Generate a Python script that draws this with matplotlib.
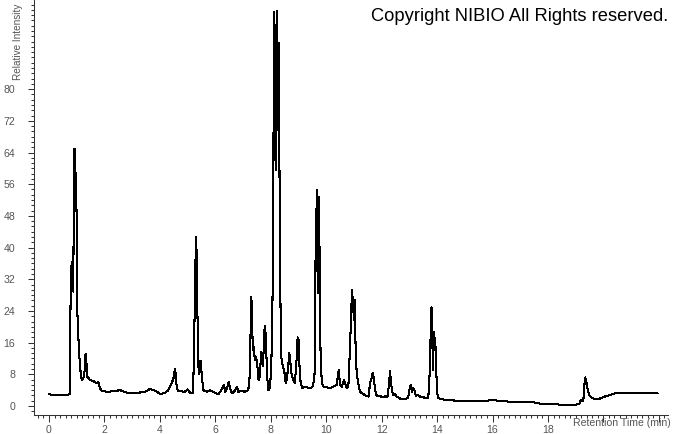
import matplotlib
matplotlib.use("Agg")
import matplotlib.pyplot as plt
from matplotlib.ticker import MultipleLocator

# Retention time (min) and relative intensity
retention_time = [
    0.00, 0.10, 0.30, 0.50, 0.70, 0.75, 0.76, 0.79, 0.83, 0.854, 0.878, 0.902, 0.938, 0.95,
    0.974, 0.998, 1.022, 1.07, 1.118, 1.179, 1.238, 1.274, 1.31, 1.335, 1.359, 1.383, 1.479,
    1.60, 1.72, 1.78, 1.84, 1.90, 2.08, 2.30, 2.56, 2.80, 3.04, 3.28, 3.52, 3.64, 3.82, 4.00,
    4.18, 4.30, 4.43, 4.49, 4.545, 4.58, 4.61, 4.66, 4.90, 5.00, 5.09, 5.20, 5.255, 5.30,
    5.33, 5.35, 5.40, 5.42, 5.47, 5.52, 5.57, 5.69, 5.81, 5.93, 6.11, 6.20, 6.31, 6.36, 6.42,
    6.49, 6.53, 6.59, 6.66, 6.79, 6.83, 6.95, 7.07, 7.19, 7.25, 7.29, 7.32, 7.35, 7.40, 7.42,
    7.47, 7.52, 7.56, 7.61, 7.65, 7.68, 7.72, 7.77, 7.80, 7.83, 7.88, 7.92, 7.97, 8.02, 8.06,
    8.09, 8.105, 8.117, 8.14, 8.165, 8.19, 8.21, 8.236, 8.26, 8.285, 8.31, 8.33, 8.37, 8.405,
    8.45, 8.50, 8.54, 8.57, 8.62, 8.67, 8.71, 8.75, 8.81, 8.87, 8.93, 8.97, 9.01, 9.03, 9.08,
    9.15, 9.24, 9.32, 9.42, 9.51, 9.56, 9.60, 9.62, 9.64, 9.66, 9.68, 9.69, 9.72, 9.74, 9.765,
    9.80, 9.85, 9.90, 10.02, 10.14, 10.26, 10.38, 10.45, 10.50, 10.57, 10.64, 10.74, 10.80,
    10.86, 10.93, 10.97, 11.00, 11.03, 11.06, 11.10, 11.16, 11.22, 11.34, 11.46, 11.53, 11.58,
    11.64, 11.68, 11.71, 11.75, 11.80, 11.88, 11.94, 12.00, 12.12, 12.21, 12.27, 12.30, 12.34,
    12.37, 12.42, 12.48, 12.54, 12.66, 12.84, 12.96, 13.02, 13.06, 13.10, 13.14, 13.18, 13.23,
    13.29, 13.38, 13.50, 13.68, 13.72, 13.76, 13.78, 13.80, 13.83, 13.85, 13.88, 13.90, 13.92,
    13.95, 13.97, 14.00, 14.03, 14.10, 14.35, 14.71, 15.07, 15.43, 15.79, 16.03, 16.27, 16.63,
    16.99, 17.35, 17.71, 18.07, 18.31, 18.43, 18.92, 19.13, 19.18, 19.24, 19.28, 19.31, 19.34,
    19.37, 19.41, 19.45, 19.51, 19.63, 19.76, 19.88, 20.06, 20.24, 20.42, 20.60, 20.96, 21.32,
    21.68, 21.95,
]
relative_intensity = [
    3.0, 2.8, 2.9, 2.8, 2.9, 3.0, 13.4, 33.9, 36.4, 30.0, 28.9, 65.0, 65.0, 58.8,
    58.8, 47.0, 24.0, 15.9, 9.9, 6.6, 7.0, 7.6, 12.9, 13.2, 10.0, 7.4, 6.6,
    6.3, 5.8, 6.1, 4.5, 3.9, 3.6, 3.7, 4.0, 3.4, 3.4, 3.4, 3.7, 4.3, 3.9, 3.1,
    3.2, 4.0, 5.8, 7.0, 9.3, 7.5, 4.5, 3.8, 3.6, 4.2, 3.3, 3.2, 23.5, 42.8,
    38.0, 25.0, 8.0, 11.2, 11.4, 7.0, 4.0, 3.6, 4.0, 3.5, 3.0, 3.8, 5.3, 3.6, 4.5,
    6.1, 4.5, 3.4, 3.4, 4.8, 3.6, 3.8, 3.6, 4.0, 8.2, 27.6, 25.9, 14.1, 15.0, 11.6,
    12.5, 9.9, 6.6, 7.4, 13.7, 13.3, 10.0, 19.2, 20.2, 15.0, 6.6, 4.0, 4.5, 9.9, 25.1,
    43.6, 81.5, 99.6, 70.5, 63.0, 59.6, 99.6, 99.6, 69.7, 91.6, 66.3, 40.2, 13.3, 10.8,
    9.9, 8.2, 5.7, 6.6, 9.1, 13.3, 10.8, 8.2, 6.6, 5.7, 11.6, 17.3, 16.7, 10.8, 5.7,
    4.5, 4.9, 4.7, 4.5, 4.9, 6.6, 9.9, 45.3, 43.6, 54.5, 48.7, 28.5, 35.2, 52.9, 35.2,
    10.8, 5.7, 4.9, 4.7, 4.5, 4.9, 5.3, 9.1, 5.3, 4.9, 6.6, 4.5, 4.9,
    15.0, 29.3, 25.9, 21.7, 26.8, 15.0, 8.2, 5.7, 3.6, 3.0, 2.5, 2.4, 5.7,
    7.0, 8.4, 7.4, 4.9, 2.8, 2.4, 2.6, 2.2, 2.4, 2.4, 5.7, 8.9, 6.1,
    4.0, 2.8, 3.0, 2.4, 1.9, 1.7, 2.2, 4.9, 5.3, 3.6, 4.5, 4.0, 2.6,
    2.8, 2.4, 2.2, 1.9, 6.1, 15.0, 24.7, 24.9, 16.7, 9.1, 18.4, 18.8, 14.1,
    15.0, 9.1, 3.6, 2.2, 1.8, 1.5, 1.35, 1.35, 1.35, 1.35, 1.5, 1.26, 1.1,
    1.1, 1.1, 0.6, 0.5, 0.5, 0.25, 0.25, 0.5, 1.5, 1.2, 1.8, 4.9, 7.2,
    6.8, 4.9, 3.6, 2.5, 1.9, 1.7, 1.9, 2.4, 2.8, 3.2, 3.3, 3.2, 3.25,
    3.2, 3.3,
]

x_ticks = [0, 2, 4, 6, 8, 10, 12, 14, 16, 18, 20, 22]
x_tick_labels = ["0", "2", "4", "6", "8", "10", "12", "14", "16", "18", "", ""]
y_ticks = [0, 8, 16, 24, 32, 40, 48, 56, 64, 72, 80]

W, H = 674, 434
fig = plt.figure(figsize=(W / 100, H / 100), dpi=100)
ax = fig.add_axes([34 / W, (H - 415) / H, (668 - 34) / W, 415 / H])

ax.plot(retention_time, relative_intensity, color="black", lw=0.75, antialiased=False)

ax.set_xlim(-0.54, 22.33)
ax.set_ylim(-2.27, 102.5)

for s in ("top", "right"):
    ax.spines[s].set_visible(False)
for s in ("left", "bottom"):
    ax.spines[s].set_color("#333333")
    ax.spines[s].set_linewidth(0.75)

ax.set_xticks(x_ticks)
ax.set_xticklabels(x_tick_labels)
ax.set_yticks(y_ticks)
ax.set_yticklabels([str(v) for v in y_ticks])
ax.xaxis.set_minor_locator(MultipleLocator(0.2))
ax.yaxis.set_minor_locator(MultipleLocator(8 / 6))

tick_font = dict(family="Liberation Sans", size=7.6)
for lab in ax.get_xticklabels() + ax.get_yticklabels():
    lab.set_fontfamily("Liberation Sans")
    lab.set_fontsize(7.6)
    lab.set_color("#555555")

ax.tick_params(axis="x", which="major", direction="out", length=4.8, width=0.75, color="#333333", pad=2.4)
ax.tick_params(axis="x", which="minor", direction="out", length=2.4, width=0.75, color="#333333")
ax.tick_params(axis="y", which="major", direction="out", length=4.3, width=0.75, color="#333333", pad=9.2)
ax.tick_params(axis="y", which="minor", direction="out", length=2.2, width=0.75, color="#333333")

fig.text(622 / W, 1 - 422.5 / H, "Retention Time (min)", ha="center", va="center",
         color="#555555", **tick_font)
fig.text(18 / W, 1 - 80 / H, "Relative Intensity", rotation=90, ha="center", va="bottom",
         color="#555555", family="Liberation Sans", size=7.2)
fig.text(668 / W, 1 - 20.7 / H, "Copyright NIBIO All Rights reserved.", ha="right",
         va="baseline", color="black", family="Liberation Sans", size=13.2)

fig.savefig("out.png", dpi=100)
